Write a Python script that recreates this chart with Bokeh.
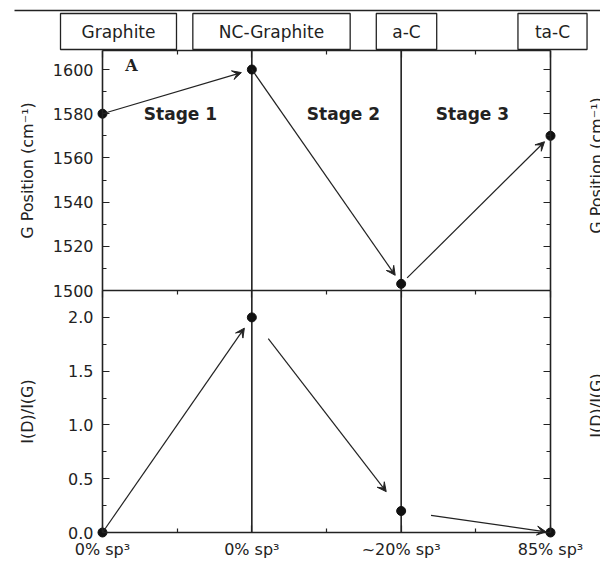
import math
from bokeh.plotting import figure
from bokeh.models import (Range1d, LinearAxis, FixedTicker, Label, Arrow,
                          VeeHead, BoxAnnotation, Grid)
from bokeh.embed import file_html
from bokeh.resources import INLINE

# ---- data ----
x_pos = [0, 1, 2, 3]
phases = ["Graphite", "NC-Graphite", "a-C", "ta-C"]
sp3_labels = ["0% sp\u00b3", "0% sp\u00b3", "~20% sp\u00b3", "85% sp\u00b3"]
g_position = [1580, 1600, 1503, 1570]
d_g_ratio = [0.0, 2.0, 0.2, 0.0]
stage_names = ["Stage 1", "Stage 2", "Stage 3"]
g_ticks = [1500, 1520, 1540, 1560, 1580, 1600]
g_minor = [1510, 1530, 1550, 1570, 1590]
r_ticks = [0.0, 0.5, 1.0, 1.5, 2.0]
r_tick_labels = ["0.0", "0.5", "1.0", "1.5", "2.0"]
r_minor = [0.25, 0.75, 1.25, 1.75]
x_minor = [0.5, 1.5, 2.5]

G_LO, G_HI = 1500, 1608.6
R_LO, R_HI = 0.0, 2.25
INK = "#222222"
FONT = "DejaVu Sans"

# ---- layout (page pixels) ----
W, H = 600, 562
PX0, PX3 = 102, 550            # x of first / last category
PY_TOP, PY_MID, PY_BOT = 50, 290, 532

sx = (PX3 - PX0) / 3
sr = (PY_BOT - PY_MID) / (R_HI - R_LO)
sg = (PY_MID - PY_TOP) / (G_HI - G_LO)


def dx(px):
    return (px - PX0) / sx


def dg(py):
    return G_HI + (PY_TOP - py) / sg


def dr(py):
    return R_LO + (PY_BOT - py) / sr


p = figure(width=W, height=H,
           x_range=Range1d(dx(0), dx(W)),
           y_range=Range1d(dr(H), dr(0)),
           x_axis_location=None, y_axis_location=None,
           output_backend="svg", toolbar_location=None,
           min_border_left=0, min_border_right=0,
           min_border_top=0, min_border_bottom=0)
p.extra_y_ranges = {"g": Range1d(dg(H), dg(0))}
p.center = [c for c in p.center if not isinstance(c, Grid)]
p.outline_line_color = None
p.background_fill_color = "white"
p.border_fill_color = "white"


def style(ax, labels=True):
    ax.axis_line_color = INK
    ax.axis_line_width = 1.6
    ax.major_tick_in = 7
    ax.major_tick_out = 0
    ax.minor_tick_in = 4
    ax.minor_tick_out = 0
    ax.major_tick_line_color = INK
    ax.minor_tick_line_color = INK
    ax.major_tick_line_width = 1.2
    ax.minor_tick_line_width = 1.2
    ax.major_label_text_font = FONT
    ax.major_label_text_font_size = "16px"
    ax.major_label_text_color = INK
    if not labels:
        ax.major_label_text_font_size = "0px"
        ax.major_label_text_alpha = 0
        ax.major_label_standoff = 0


x_ticker = FixedTicker(ticks=x_pos, minor_ticks=x_minor)
g_ticker = FixedTicker(ticks=g_ticks, minor_ticks=g_minor)
r_ticker = FixedTicker(ticks=r_ticks, minor_ticks=r_minor)

# left axes
ax_g = LinearAxis(y_range_name="g", ticker=g_ticker, bounds=(G_LO, G_HI), fixed_location=0)
style(ax_g)
ax_g.major_label_standoff = 9
p.add_layout(ax_g, "left")
ax_r = LinearAxis(ticker=r_ticker, bounds=(R_LO, R_HI), fixed_location=0,
                  major_label_overrides={k: v for k, v in zip(r_ticks, r_tick_labels)})
style(ax_r)
ax_r.major_label_standoff = 9
p.add_layout(ax_r, "left")

# right axes (ticks only)
ax_g2 = LinearAxis(y_range_name="g", ticker=g_ticker, bounds=(G_LO, G_HI), fixed_location=3)
style(ax_g2, labels=False)
p.add_layout(ax_g2, "right")
ax_r2 = LinearAxis(ticker=r_ticker, bounds=(R_LO, R_HI), fixed_location=3)
style(ax_r2, labels=False)
p.add_layout(ax_r2, "right")

# bottom axis with sp3 labels
ax_x = LinearAxis(ticker=x_ticker, bounds=(0, 3), fixed_location=R_LO,
                  major_label_overrides={k: v for k, v in zip(x_pos, sp3_labels)})
style(ax_x)
ax_x.major_label_standoff = 7
p.add_layout(ax_x, "below")

# top axis (ticks only)
ax_t = LinearAxis(y_range_name="g", ticker=x_ticker, bounds=(0, 3), fixed_location=G_HI)
style(ax_t, labels=False)
p.add_layout(ax_t, "above")

# panel separator (axis rule + ticks)
ax_m = LinearAxis(ticker=x_ticker, bounds=(0, 3), fixed_location=R_HI)
style(ax_m, labels=False)
p.add_layout(ax_m, "above")

# vertical lines through NC-Graphite and a-C
mid = x_pos[1:3]
p.segment(x0=mid, y0=[G_LO] * 2, x1=mid, y1=[G_HI] * 2, y_range_name="g",
          line_color=INK, line_width=1.6)
p.segment(x0=mid, y0=[R_LO] * 2, x1=mid, y1=[R_HI] * 2,
          line_color=INK, line_width=1.6)

# points
p.scatter(x_pos, g_position, y_range_name="g", size=9, color="#111111")
p.scatter(x_pos, d_g_ratio, size=9, color="#111111")


def add_arrow(vals, i, j, s, e, rng):
    xs = x_pos[i] + s * (x_pos[j] - x_pos[i])
    ys = vals[i] + s * (vals[j] - vals[i])
    xe = x_pos[i] + e * (x_pos[j] - x_pos[i])
    ye = vals[i] + e * (vals[j] - vals[i])
    kw = {} if rng is None else {"y_range_name": rng}
    p.add_layout(Arrow(end=VeeHead(size=9, fill_color=INK, line_color=INK, line_width=1),
                       x_start=xs, y_start=ys, x_end=xe, y_end=ye,
                       line_color=INK, line_width=1.2, **kw))


add_arrow(g_position, 0, 1, 0.0, 0.93, "g")
add_arrow(g_position, 1, 2, 0.0, 0.96, "g")
add_arrow(g_position, 2, 3, 0.04, 0.96, "g")
add_arrow(d_g_ratio, 0, 1, 0.0, 0.95, None)
add_arrow(d_g_ratio, 1, 2, 0.11, 0.90, None)
add_arrow(d_g_ratio, 2, 3, 0.2, 0.97, None)

# stage labels
for px, name in zip([180, 343, 472], stage_names):
    p.add_layout(Label(x=dx(px), y=dg(113), y_range_name="g", text=name,
                       text_font=FONT, text_font_style="bold", text_font_size="17px",
                       text_color=INK, text_align="center", text_baseline="middle"))

p.add_layout(Label(x=dx(131), y=dg(65), y_range_name="g", text="A",
                   text_font="DejaVu Serif", text_font_style="bold",
                   text_font_size="16px", text_color=INK,
                   text_align="center", text_baseline="middle"))

# phase boxes above the plot
for px, name, pad in zip([118, 271, 406, 552], phases, [21, 26, 16, 17]):
    p.add_layout(Label(x=dx(px), y=dg(31), y_range_name="g", text=name,
                       text_font=FONT, text_font_size="17px", text_color=INK,
                       text_align="center", text_baseline="middle",
                       padding=(pad, 8), border_line_color=INK, border_line_width=1.3,
                       background_fill_color="white"))

# top rule
p.add_layout(BoxAnnotation(left=dx(14), right=dx(W + 5), top=dg(9.3), bottom=dg(10.8),
                           y_range_name="g", fill_color=INK, fill_alpha=1, line_color=None))

# axis titles (left) and the neighbouring panel's titles, cut off at the right edge
for px, py, txt in [(27, 170, "G Position (cm\u207b\u00b9)"),
                    (27, 411, "I(D)/I(G)"),
                    (596, 165, "G Position (cm\u207b\u00b9)"),
                    (596, 405, "I(D)/I(G)")]:
    p.add_layout(Label(x=dx(px), y=dg(py), y_range_name="g", text=txt,
                       angle=math.pi / 2, text_font=FONT, text_font_size="16px",
                       text_color=INK, text_align="center", text_baseline="middle"))

open("out.html", "w").write(file_html(p, INLINE))
